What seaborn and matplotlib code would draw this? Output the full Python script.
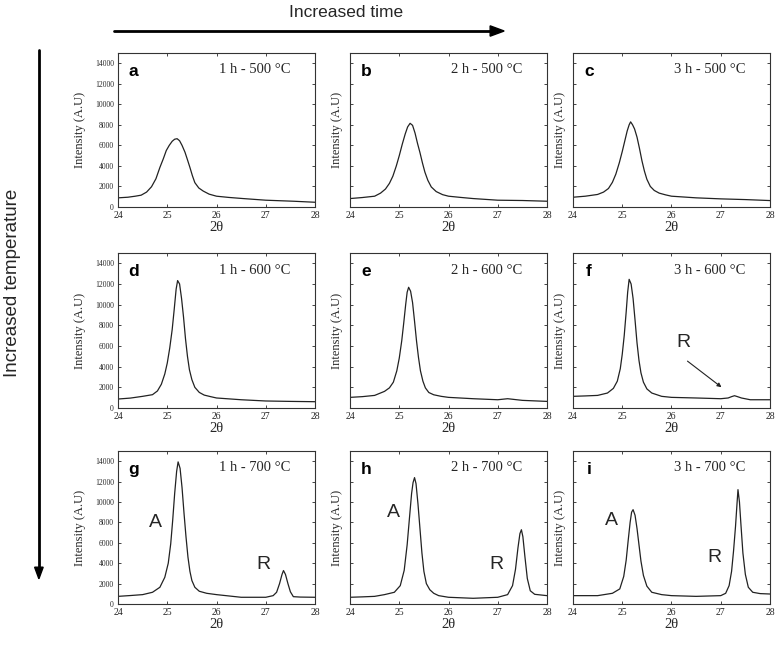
import matplotlib.pyplot as plt
import seaborn as sns
import numpy as np
import pandas as pd

# XRD patterns (2theta in degrees, intensity in A.U)
a_x = [24.0, 24.2, 24.35, 24.47, 24.58, 24.68, 24.77, 24.85, 24.92, 24.98, 25.04, 25.1, 25.15, 25.2, 25.25, 25.3, 25.36, 25.41, 25.46, 25.51, 25.56, 25.64, 25.73, 25.85, 26.0, 26.25, 26.54, 27.0, 27.56, 28.0]
a_y = [890, 950, 1050, 1150, 1450, 1970, 2750, 3850, 4700, 5500, 6000, 6400, 6600, 6650, 6450, 6000, 5330, 4600, 3850, 3050, 2370, 1850, 1550, 1250, 1050, 930, 820, 660, 560, 460]

b_x = [24.0, 24.25, 24.5, 24.62, 24.72, 24.8, 24.87, 24.94, 25.0, 25.06, 25.12, 25.17, 25.22, 25.27, 25.32, 25.37, 25.42, 25.47, 25.52, 25.58, 25.65, 25.75, 25.88, 26.0, 26.25, 26.5, 27.0, 27.5, 28.0]
b_y = [820, 920, 1050, 1350, 1750, 2300, 3000, 4000, 5000, 6100, 7100, 7800, 8150, 7950, 7200, 6200, 5300, 4300, 3400, 2600, 1950, 1500, 1200, 1050, 930, 820, 660, 630, 560]

c_x = [24.0, 24.25, 24.5, 24.62, 24.72, 24.8, 24.87, 24.94, 25.0, 25.05, 25.1, 25.14, 25.17, 25.21, 25.25, 25.3, 25.35, 25.4, 25.45, 25.5, 25.57, 25.65, 25.75, 25.88, 26.0, 26.5, 27.0, 27.5, 28.0]
c_y = [950, 1050, 1220, 1450, 1800, 2400, 3200, 4300, 5400, 6400, 7400, 8000, 8290, 8000, 7600, 6800, 5700, 4500, 3500, 2700, 2000, 1610, 1350, 1180, 1050, 890, 790, 720, 625]

d_x = [24.0, 24.25, 24.5, 24.7, 24.8, 24.88, 24.95, 25.0, 25.05, 25.1, 25.14, 25.18, 25.21, 25.25, 25.29, 25.33, 25.37, 25.41, 25.45, 25.5, 25.56, 25.65, 25.75, 25.88, 26.0, 26.5, 27.0, 27.5, 28.0]
d_y = [870, 960, 1130, 1290, 1650, 2300, 3300, 4350, 5800, 7600, 9500, 11500, 12330, 12000, 10600, 8800, 6700, 5000, 3700, 2740, 2000, 1510, 1250, 1100, 970, 800, 680, 640, 610]

e_x = [24.0, 24.25, 24.5, 24.7, 24.8, 24.88, 24.95, 25.0, 25.05, 25.09, 25.13, 25.16, 25.19, 25.23, 25.27, 25.31, 25.35, 25.39, 25.43, 25.48, 25.53, 25.6, 25.7, 25.85, 26.0, 26.5, 27.0, 27.2, 27.5, 28.0]
e_y = [1030, 1100, 1220, 1610, 1950, 2500, 3600, 4830, 6500, 8200, 10000, 11200, 11680, 11300, 10200, 8400, 6500, 4900, 3600, 2600, 1950, 1500, 1280, 1130, 1030, 900, 800, 900, 740, 640]

f_x = [24.0, 24.25, 24.5, 24.7, 24.82, 24.9, 24.96, 25.0, 25.04, 25.08, 25.11, 25.14, 25.18, 25.22, 25.26, 25.3, 25.34, 25.38, 25.43, 25.5, 25.6, 25.8, 26.0, 26.5, 27.0, 27.15, 27.22, 27.28, 27.34, 27.42, 27.6, 28.0]
f_y = [1130, 1170, 1220, 1450, 1900, 2600, 3800, 5200, 7000, 9300, 11200, 12450, 12000, 10600, 8500, 6300, 4600, 3400, 2500, 1850, 1450, 1130, 1030, 970, 900, 970, 1100, 1190, 1100, 970, 800, 800]

g_x = [24.0, 24.25, 24.5, 24.7, 24.85, 24.95, 25.02, 25.07, 25.11, 25.15, 25.19, 25.22, 25.26, 25.3, 25.34, 25.38, 25.42, 25.46, 25.5, 25.56, 25.65, 25.8, 26.0, 26.5, 27.0, 27.15, 27.22, 27.28, 27.33, 27.36, 27.4, 27.45, 27.5, 27.56, 27.7, 28.0]
g_y = [750, 830, 920, 1150, 1640, 2620, 4000, 5900, 8200, 10820, 13000, 13930, 13300, 11400, 8900, 6600, 4600, 3200, 2300, 1640, 1250, 1050, 920, 660, 660, 820, 1150, 2000, 2900, 3280, 2900, 2000, 1200, 720, 680, 660]

h_x = [24.0, 24.25, 24.5, 24.7, 24.9, 25.02, 25.1, 25.16, 25.21, 25.25, 25.28, 25.31, 25.34, 25.38, 25.42, 25.46, 25.5, 25.55, 25.62, 25.7, 25.8, 26.0, 26.5, 27.0, 27.2, 27.3, 27.36, 27.41, 27.45, 27.48, 27.51, 27.55, 27.6, 27.66, 27.75, 28.0]
h_y = [660, 700, 750, 920, 1150, 1800, 3300, 5800, 8600, 10820, 11900, 12390, 11800, 9800, 7400, 5000, 3200, 2000, 1400, 1050, 820, 660, 560, 660, 920, 1800, 3400, 5500, 6900, 7280, 6600, 4700, 2500, 1300, 950, 820]

i_x = [24.0, 24.5, 24.8, 24.95, 25.03, 25.08, 25.12, 25.16, 25.19, 25.22, 25.26, 25.3, 25.34, 25.38, 25.43, 25.5, 25.6, 25.8, 26.0, 26.5, 27.0, 27.1, 27.17, 27.22, 27.26, 27.3, 27.33, 27.35, 27.38, 27.41, 27.45, 27.5, 27.56, 27.65, 27.8, 28.0]
i_y = [820, 820, 1050, 1480, 2700, 4300, 6200, 8000, 9000, 9250, 8700, 7400, 5800, 4200, 2800, 1750, 1150, 920, 820, 750, 820, 1050, 1800, 3200, 5200, 7600, 9800, 11210, 10000, 7800, 5000, 2900, 1640, 1150, 1020, 980]

letters = ["a", "b", "c", "d", "e", "f", "g", "h", "i"]
hours = ["1 h", "2 h", "3 h"]
temps = ["500", "600", "700"]
xs = [a_x, b_x, c_x, d_x, e_x, f_x, g_x, h_x, i_x]
ys = [a_y, b_y, c_y, d_y, e_y, f_y, g_y, h_y, i_y]

# phase labels (A = anatase, R = rutile) as (panel, label, x, y)
phase_labels = [
    ("f", "R", 26.24, 6300),
    ("g", "A", 24.75, 8000), ("g", "R", 26.95, 3900),
    ("h", "A", 24.88, 9000), ("h", "R", 26.98, 3900),
    ("i", "A", 24.78, 8200), ("i", "R", 26.87, 4600),
]

sns.set_style("ticks")
serif = ["Liberation Serif", "DejaVu Serif"]
sans = ["Liberation Sans", "DejaVu Sans"]

fig = plt.figure(figsize=(7.78, 6.46), dpi=100)

col_left = [0.1517, 0.4499, 0.7365]
col_w = 0.2532
row_bottom = [0.6796, 0.3684, 0.065]
row_h = [0.2384, 0.2400, 0.2369]

for k, letter in enumerate(letters):
    r, c = divmod(k, 3)
    ax = fig.add_axes([col_left[c], row_bottom[r], col_w, row_h[r]])
    df = pd.DataFrame({"2theta": xs[k], "intensity": ys[k]})
    sns.lineplot(data=df, x="2theta", y="intensity", ax=ax, color="#222222", linewidth=0.9)

    ax.set_xlim(24, 28)
    ax.set_ylim(0, 15000)
    ax.set_xticks([24, 25, 26, 27, 28])
    ax.set_yticks(np.arange(0, 15000, 2000))
    ax.tick_params(direction="in", length=2.5, width=0.6, top=True, right=True)
    ax.tick_params(axis="x", labelsize=7, pad=3)
    ax.tick_params(axis="y", labelsize=5.5, pad=3)
    for lab in ax.get_xticklabels() + ax.get_yticklabels():
        lab.set_family(serif)
    if c > 0:
        ax.tick_params(axis="y", labelleft=False)
    for sp in ax.spines.values():
        sp.set_linewidth(0.8)
        sp.set_color("#333333")

    ax.set_xlabel("2θ", family=serif, fontsize=10.5)
    ax.set_ylabel("Intensity (A.U)", family=serif, fontsize=9)
    ax.xaxis.set_label_coords(0.5, -0.09)
    ax.yaxis.set_label_coords(-0.165 if c == 0 else -0.036, 0.5)

    ax.text(0.08, 0.88, letter, transform=ax.transAxes, family=sans, fontweight="bold",
            fontsize=12.5, ha="center", va="center", color="black")
    ax.text(0.875, 0.89, f"{hours[c]} - {temps[r]} °C", transform=ax.transAxes,
            family=serif, fontsize=10.5, ha="right", va="center")

    for p, txt, px, py in phase_labels:
        if p == letter:
            ax.text(px, py, txt, family=sans, fontsize=14, ha="center", va="center")
    if letter == "f":
        ax.annotate("", xy=(27.06, 1850), xytext=(26.28, 4700),
                    arrowprops=dict(arrowstyle="-|>", color="#222222", lw=0.8,
                                    mutation_scale=6))

# "Increased time" and "Increased temperature" arrows
fig.text(0.445, 0.98, "Increased time", family=sans, fontsize=12.5, ha="center", va="center")
fig.add_artist(plt.Line2D([0.146, 0.63], [0.952, 0.952], color="black", lw=2))
fig.patches.append(plt.Polygon([[0.63, 0.944], [0.648, 0.952], [0.63, 0.960]],
                               closed=True, transform=fig.transFigure, color="black"))
fig.text(0.016, 0.562, "Increased temperature", family=sans, fontsize=13.5,
         rotation=90, ha="center", va="center")
fig.add_artist(plt.Line2D([0.05, 0.05], [0.923, 0.12], color="black", lw=2))
fig.patches.append(plt.Polygon([[0.0445, 0.122], [0.05, 0.104], [0.0555, 0.122]],
                               closed=True, transform=fig.transFigure, color="black"))

plt.savefig("out.png", dpi=100)
